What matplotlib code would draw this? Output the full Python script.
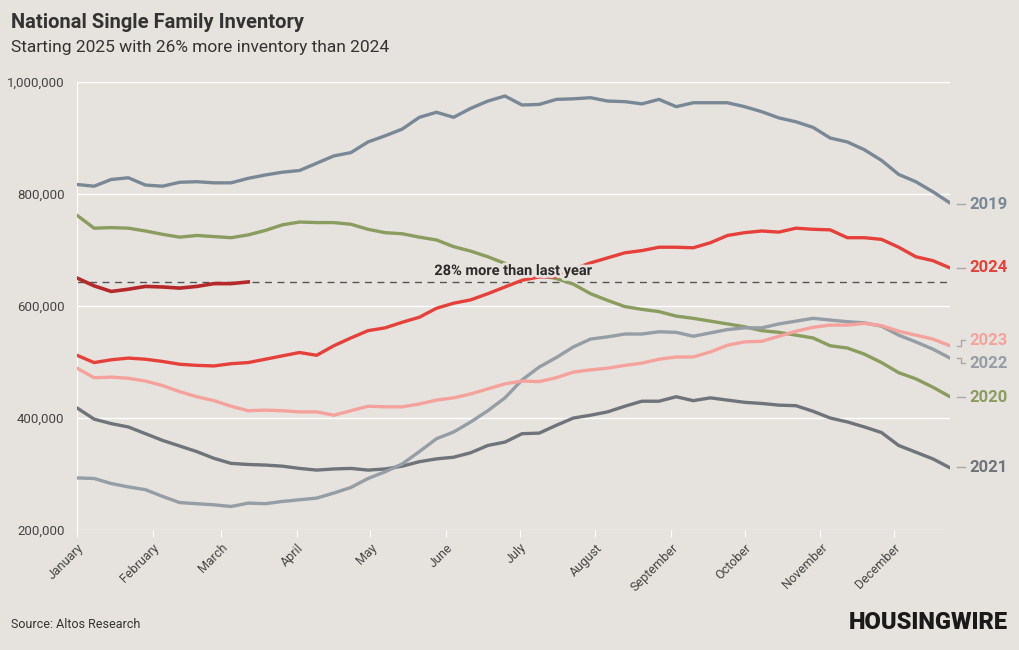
import matplotlib
matplotlib.use('Agg')
import matplotlib.pyplot as plt
import matplotlib.patheffects as pe
from matplotlib.ticker import FuncFormatter

plt.rcParams['font.family'] = ['Roboto', 'DejaVu Sans']

# weekly inventory, thousands of homes
y2019 = [817, 814, 826, 829, 816, 814, 821, 822, 820, 820, 828, 834, 839, 842, 855, 868, 874, 893,
         904, 916, 937, 946, 937, 953, 966, 975, 959, 960, 969, 970, 972, 966, 965, 961, 969, 956,
         963, 963, 963, 956, 947, 936, 929, 919, 900, 893, 879, 860, 835, 822, 804, 784]
y2020 = [762, 739, 740, 739, 734, 728, 723, 726, 724, 722, 727, 735, 745, 750, 749, 749, 746, 737,
         731, 729, 723, 718, 706, 698, 688, 676, 665, 655, 649, 639, 622, 610, 599, 594, 590, 582,
         578, 573, 568, 563, 556, 553, 548, 543, 529, 525, 514, 499, 481, 470, 455, 438]
y2021 = [418, 398, 390, 384, 372, 360, 350, 340, 328, 319, 317, 316, 314, 310, 307, 309, 310, 307,
         309, 314, 322, 327, 330, 338, 351, 357, 372, 373, 387, 400, 405, 411, 421, 430, 430, 438,
         431, 436, 432, 428, 426, 423, 422, 412, 400, 393, 384, 374, 351, 339, 327, 311]
y2022 = [293, 292, 283, 277, 272, 260, 249, 247, 245, 242, 248, 247, 251, 254, 257, 266, 276, 292,
         304, 318, 340, 363, 375, 393, 413, 436, 468, 491, 508, 527, 541, 545, 550, 550, 554, 553,
         546, 552, 558, 561, 561, 568, 573, 578, 575, 572, 570, 564, 548, 536, 523, 507]
y2023 = [489, 472, 473, 471, 466, 458, 447, 438, 431, 421, 413, 414, 413, 411, 411, 405, 413, 421,
         420, 420, 425, 432, 436, 443, 452, 461, 466, 465, 472, 482, 486, 489, 494, 498, 505, 509,
         509, 518, 530, 536, 537, 546, 555, 562, 566, 566, 569, 565, 555, 548, 541, 529]
y2024 = [512, 499, 504, 507, 505, 501, 496, 494, 493, 497, 499, 505, 511, 517, 512, 529, 543, 556,
         561, 571, 580, 596, 605, 611, 622, 634, 646, 652, 652, 666, 677, 686, 695, 699, 705, 705,
         704, 713, 726, 731, 734, 732, 739, 737, 736, 722, 722, 719, 705, 688, 681, 668]
y2025 = [650, 636, 626, 630, 635, 634, 632, 635, 640, 640, 643]
latest = 643

months = ['January', 'February', 'March', 'April', 'May', 'June', 'July', 'August',
          'September', 'October', 'November', 'December']
month_start_day = [0, 31, 59, 90, 120, 151, 181, 212, 243, 273, 304, 334]

series = [
    ('2019', y2019, '#7a8896'),
    ('2020', y2020, '#8b9c5f'),
    ('2021', y2021, '#6f747a'),
    ('2022', y2022, '#959da5'),
    ('2023', y2023, '#f5a29c'),
    ('2024', y2024, '#e6403a'),
]
label_y = {'2019': 782, '2024': 668, '2023': 539, '2022': 498, '2020': 437, '2021': 312}

bg = '#e6e3de'
fig = plt.figure(figsize=(10.2, 6.5), dpi=100, facecolor=bg)
ax = fig.add_axes([0.0755, 0.1846, 0.8559, 0.6892])
ax.set_facecolor(bg)

for name, vals, col in series:
    ax.plot(range(len(vals)), [v * 1000 for v in vals], color=col, lw=2.4, zorder=3,
            solid_capstyle='round')
ax.plot(range(len(y2025)), [v * 1000 for v in y2025], color='#b5292b', lw=2.6, zorder=4)

ax.axhline(latest * 1000, color='#555555', lw=1, ls=(0, (5, 4)), zorder=2)
ax.text(25.5, latest * 1000 + 7000, '28% more than last year', ha='center', va='bottom',
        fontsize=10.5, fontweight='bold', color='#2b2b2b', zorder=6,
        path_effects=[pe.withStroke(linewidth=4, foreground=bg)])

ax.set_xlim(0, 51)
ax.set_ylim(200000, 1000000)
ax.set_yticks([200000, 400000, 600000, 800000, 1000000])
ax.yaxis.set_major_formatter(FuncFormatter(lambda v, p: f'{int(v):,}'))
ax.set_xticks([d / 7 for d in month_start_day])
ax.set_xticklabels(months, rotation=45, ha='right', rotation_mode='anchor')
ax.grid(axis='y', color='white', lw=1, zorder=1)
for s in ['top', 'right', 'bottom']:
    ax.spines[s].set_visible(False)
ax.spines['left'].set_color('white')
ax.tick_params(axis='y', length=0, pad=9, labelsize=9.5, labelcolor='#444444')
ax.tick_params(axis='x', length=5, color='white', pad=3, labelsize=9, labelcolor='#444444')

# right-hand labels
for name, vals, col in series:
    ly = label_y[name] * 1000
    ey = vals[-1] * 1000
    if name in ('2023', '2022'):
        ax.plot([51.4, 51.65, 51.65, 51.9], [ey, ey, ly, ly], color='#aaaaaa', lw=1,
                clip_on=False)
    else:
        ax.plot([51.4, 51.9], [ly, ly], color='#aaaaaa', lw=1, clip_on=False)
    ax.text(52.15, ly, name, ha='left', va='center', fontsize=12, fontweight='bold',
            color=col, clip_on=False)

fig.text(0.011, 0.966, 'National Single Family Inventory', fontsize=14.5, fontweight='bold',
         color='#333333', va='center')
fig.text(0.011, 0.927, 'Starting 2025 with 26% more inventory than 2024', fontsize=12.5,
         color='#333333', va='center')
fig.text(0.011, 0.04, 'Source: Altos Research', fontsize=9, color='#333333', va='center')
fig.text(0.988, 0.043, 'HOUSINGWIRE', fontsize=17, fontweight='heavy', color='#1a1a1a',
         ha='right', va='center')

fig.savefig('out.png', dpi=100, facecolor=bg)
